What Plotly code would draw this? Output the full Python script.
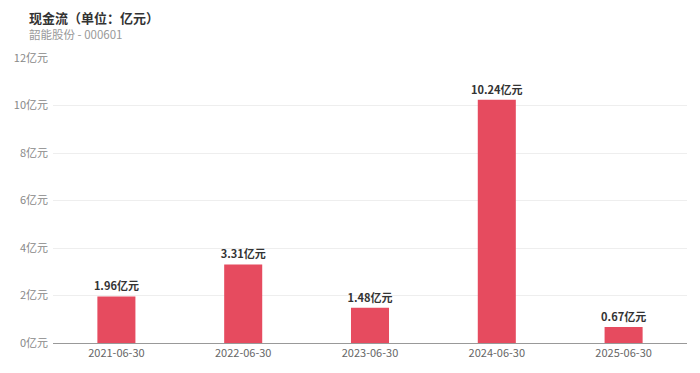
import plotly.graph_objects as go

categories = ["2021-06-30", "2022-06-30", "2023-06-30", "2024-06-30", "2025-06-30"]
values = [1.96, 3.31, 1.48, 10.24, 0.67]
labels = ["1.96亿元", "3.31亿元", "1.48亿元", "10.24亿元", "0.67亿元"]
tick_vals = [0, 2, 4, 6, 8, 10, 12]
tick_text = ["0亿元", "2亿元", "4亿元", "6亿元", "8亿元", "10亿元", "12亿元"]

FONT = "Noto Sans CJK SC, Noto Sans, sans-serif"

W, H = 700, 373
l, r, t, b = 53, 13, 58, 30
pw, ph = W - l - r, H - t - b

def px(x):
    return (x - l) / pw

def py(y):
    return (H - b - y) / ph

fig = go.Figure()
fig.add_trace(go.Bar(
    x=categories, y=values, width=0.3,
    marker=dict(color="#e64b5f", line=dict(width=0)),
    text=labels, textposition="outside", cliponaxis=False, constraintext="none",
    textfont=dict(family=FONT, size=11, color="#333333", weight="bold"),
))

fig.update_layout(
    width=W, height=H,
    margin=dict(l=l, r=r, t=t, b=b),
    paper_bgcolor="white", plot_bgcolor="white",
    showlegend=False, bargap=0.7,
    font=dict(family=FONT, size=11, color="#666666"),
    xaxis=dict(
        type="category", showgrid=False, showline=True, linecolor="#999999", linewidth=1,
        ticks="", tickfont=dict(size=11, color="#666666"),
    ),
    yaxis=dict(
        range=[0, 12], tickvals=tick_vals, ticktext=tick_text,
        showgrid=True, gridcolor="#eeeeee", gridwidth=1, zeroline=False,
        ticks="", tickfont=dict(size=11, color="#888888"), ticklabelstandoff=4,
    ),
)
fig.add_annotation(text="<b>现金流（单位：亿元）</b>", x=px(27), y=py(17), xref="paper", yref="paper",
                   xanchor="left", yanchor="middle", showarrow=False,
                   font=dict(family=FONT, size=13, color="#333333"))
fig.add_annotation(text="韶能股份 - 000601", x=px(27), y=py(34), xref="paper", yref="paper",
                   xanchor="left", yanchor="middle", showarrow=False,
                   font=dict(family=FONT, size=11.5, color="#999999"))

fig.write_html("out.html")
